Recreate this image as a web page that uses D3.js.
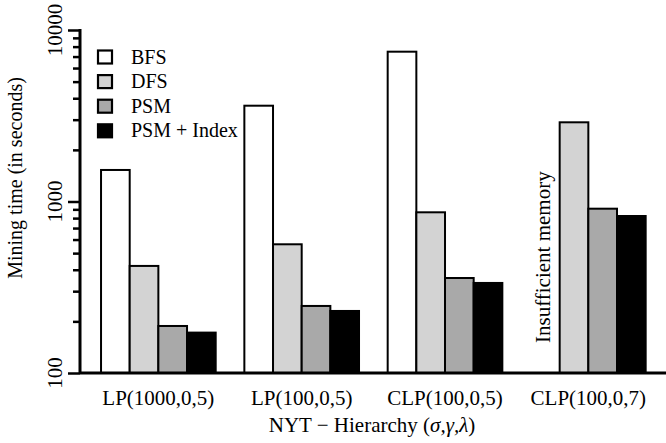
<!DOCTYPE html>
<html>
<head>
<meta charset="utf-8">
<script src="https://cdn.jsdelivr.net/npm/d3@7"></script>
<style>
  html, body { margin: 0; padding: 0; background: #fff; }
  svg { display: block; }
</style>
</head>
<body>
<script>
// ---- data ----
const categories = ["LP(1000,0,5)", "LP(100,0,5)", "CLP(100,0,5)", "CLP(100,0,7)"];
const seriesNames = ["BFS", "DFS", "PSM", "PSM + Index"];
const seriesColors = ["#ffffff", "#d3d3d3", "#a9a9a9", "#000000"];
const bfsValues = [1527, 3619, 7474, null];
const dfsValues = [421, 563, 865, 2896];
const psmValues = [188, 246, 358, 908];
const psmIndexValues = [172, 230, 335, 823];
const yTickValues = [100, 1000, 10000];
const yTickLabels = ["100", "1000", "10000"];
const yMinorTicks = [200,300,400,500,600,700,800,900,2000,3000,4000,5000,6000,7000,8000,9000];
const missingLabel = "Insufficient memory";
const xTitle = "NYT \u2212 Hierarchy (";
const xTitleGreek = "\u03C3,\u03B3,\u03BB";
const yTitle = "Mining time (in seconds)";

const seriesValues = [bfsValues, dfsValues, psmValues, psmIndexValues];

// ---- layout ----
const W = 666, H = 443;
const axisX = 80, axisBottom = 373, axisTop = 30;
const FONT = "'Liberation Serif', 'Times New Roman', serif";

const svg = d3.select("body").append("svg").attr("width", W).attr("height", H)
  .attr("font-family", FONT);
svg.append("rect").attr("width", W).attr("height", H).attr("fill", "#fff");

const x0 = d3.scaleBand().domain(categories).range([86.7, 660]).paddingInner(0.2).paddingOuter(0.1);
const x1 = d3.scaleBand().domain(d3.range(seriesNames.length)).range([0, x0.bandwidth()]).padding(0);
const y = d3.scaleLog().domain([100, 10000]).range([axisBottom, axisTop]);

// bars
const rows = [];
categories.forEach((c, ci) => {
  seriesValues.forEach((vals, si) => {
    if (vals[ci] != null) rows.push({ c, si, v: vals[ci] });
  });
});
svg.append("g").selectAll("rect").data(rows).join("rect")
  .attr("x", d => x0(d.c) + x1(d.si))
  .attr("y", d => y(d.v))
  .attr("width", x1.bandwidth())
  .attr("height", d => axisBottom - y(d.v))
  .attr("fill", d => seriesColors[d.si])
  .attr("stroke", "#000")
  .attr("stroke-width", 2);

// missing annotation
const missCat = categories[3];
const mx = x0(missCat) + x1(0) + x1.bandwidth() / 2 + 5;
svg.append("text")
  .attr("transform", `translate(${mx},${343}) rotate(-90)`)
  .attr("font-size", 21)
  .attr("font-family", FONT)
  .attr("text-anchor", "start")
  .text(missingLabel);

// y axis
const yAxis = d3.axisLeft(y).tickValues(yTickValues).tickSize(12).tickFormat("");
const gy = svg.append("g").attr("transform", `translate(${axisX},0)`).call(yAxis);
gy.select(".domain").remove();
gy.selectAll(".tick line").attr("stroke", "#000").attr("stroke-width", 2.5);
const yMinor = d3.axisLeft(y).tickValues(yMinorTicks).tickSize(7).tickFormat("");
const gym = svg.append("g").attr("transform", `translate(${axisX},0)`).call(yMinor);
gym.select(".domain").remove();
gym.selectAll(".tick line").attr("stroke", "#000").attr("stroke-width", 2.5);

svg.append("line").attr("x1", axisX).attr("x2", axisX).attr("y1", axisTop - 1).attr("y2", axisBottom + 1)
  .attr("stroke", "#000").attr("stroke-width", 3);

// y tick labels
svg.append("g").selectAll("text").data(yTickValues).join("text")
  .attr("transform", d => `translate(62,${y(d)}) rotate(-90)`)
  .attr("text-anchor", "middle")
  .attr("font-size", 21)
  .attr("font-family", FONT)
  .text((d, i) => yTickLabels[i]);

// x axis line
svg.append("line").attr("x1", axisX).attr("x2", W).attr("y1", axisBottom).attr("y2", axisBottom)
  .attr("stroke", "#000").attr("stroke-width", 3);

// x category labels
svg.append("g").selectAll("text").data(categories).join("text")
  .attr("x", d => x0(d) + x0.bandwidth() / 2)
  .attr("y", 405)
  .attr("text-anchor", "middle")
  .attr("font-size", 21)
  .attr("font-family", FONT)
  .text(d => d);

// x title
const xt = svg.append("text").attr("x", 372).attr("y", 432).attr("text-anchor", "middle")
  .attr("font-size", 21).attr("font-family", FONT);
xt.append("tspan").text(xTitle);
xt.append("tspan").attr("font-style", "italic").text(xTitleGreek);
xt.append("tspan").text(")");

// y title
svg.append("text")
  .attr("transform", `translate(22,${178}) rotate(-90)`)
  .attr("text-anchor", "middle")
  .attr("font-size", 20)
  .attr("font-family", FONT)
  .text(yTitle);

// legend
const lg = svg.append("g");
seriesNames.forEach((name, i) => {
  const cy = 57 + i * 24.6;
  lg.append("rect").attr("x", 98).attr("y", cy - 6.5).attr("width", 14).attr("height", 13)
    .attr("fill", seriesColors[i]).attr("stroke", "#000").attr("stroke-width", 2.2);
  lg.append("text").attr("x", 131).attr("y", cy + 6.5).attr("font-size", 20)
    .attr("font-family", FONT).text(name);
});
</script>
</body>
</html>
